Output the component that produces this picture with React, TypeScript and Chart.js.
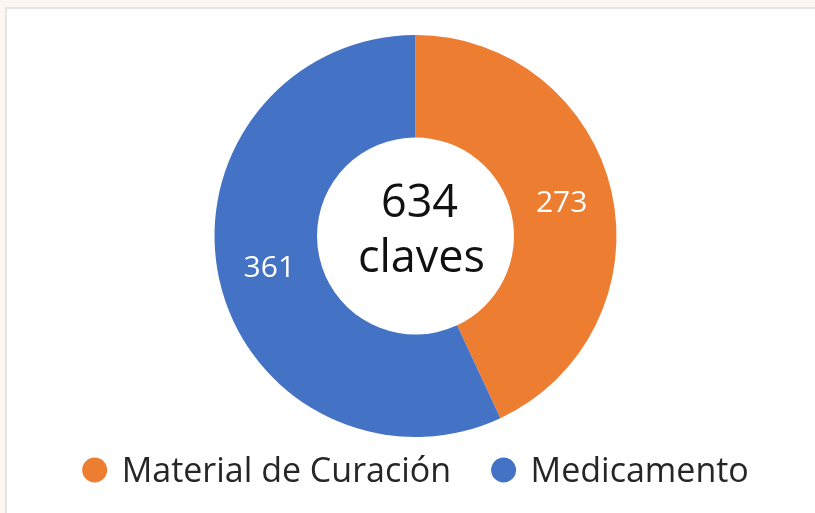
import React, { useEffect, useRef } from "react";
import { Chart, registerables } from "chart.js";

Chart.register(...registerables);

const categories = ["Material de Curación", "Medicamento"];
const values = [273, 361];
const colors = ["#ED7D31", "#4472C4"];
const centerLines = ["634", "claves"];

const FONT = "'Open Sans', 'Noto Sans', sans-serif";

export default function App() {
  const ref = useRef<HTMLCanvasElement>(null);

  useEffect(() => {
    document.body.style.margin = "0";
    const canvas = ref.current!;
    const labelPlugin = {
      id: "labelsAndCenter",
      afterDatasetsDraw(chart: any) {
        const ctx = chart.ctx;
        const meta = chart.getDatasetMeta(0);
        ctx.save();
        ctx.fillStyle = "#ffffff";
        ctx.font = `30px ${FONT}`;
        ctx.textAlign = "center";
        ctx.textBaseline = "middle";
        meta.data.forEach((arc: any, i: number) => {
          const p = arc.tooltipPosition();
          ctx.fillText(String(values[i]), p.x, p.y);
        });
        const a = meta.data[0];
        const cx = a.x;
        const cy = a.y;
        ctx.fillStyle = "#111111";
        ctx.font = `45px ${FONT}`;
        ctx.textBaseline = "alphabetic";
        ctx.fillText(centerLines[0], cx + 4, cy - 19);
        ctx.fillText(centerLines[1], cx + 6, cy + 36);

        // legend
        ctx.font = `34px ${FONT}`;
        ctx.textAlign = "left";
        ctx.textBaseline = "alphabetic";
        const r = 12.5;
        const gapText = 14.5;
        const gapItem = 40;
        const widths = categories.map((c) => 2 * r + gapText + ctx.measureText(c).width);
        const total = widths.reduce((s, w) => s + w, 0) + gapItem * (categories.length - 1);
        let x = cx - total / 2;
        const ly = 470;
        categories.forEach((c, i) => {
          ctx.fillStyle = colors[i];
          ctx.beginPath();
          ctx.arc(x + r, ly, r, 0, Math.PI * 2);
          ctx.fill();
          ctx.fillStyle = "#262626";
          ctx.fillText(c, x + 2 * r + gapText, ly + 12);
          x += widths[i] + gapItem;
        });
        ctx.restore();
      },
    };
    const chart = new Chart(canvas, {
      type: "doughnut",
      data: {
        labels: categories,
        datasets: [
          {
            data: values,
            backgroundColor: colors,
            borderWidth: 0,
          },
        ],
      },
      options: {
        responsive: false,
        animation: false,
        cutout: "49%",
        layout: { padding: { top: 35, bottom: 76, left: 16, right: 0 } },
        plugins: {
          legend: { display: false },
          tooltip: { enabled: false },
        },
      },
      plugins: [labelPlugin],
    });
    return () => chart.destroy();
  }, []);

  return (
    <div style={{ position: "relative", width: 815, height: 513, background: "#fbf6f2", overflow: "hidden" }}>
      <div
        style={{
          position: "absolute",
          left: 5,
          top: 7,
          width: 830,
          height: 530,
          background: "#ffffff",
          border: "2px solid #e4e4e4",
        }}
      />
      <canvas ref={ref} width={815} height={513} style={{ position: "absolute", left: 0, top: 0 }} />
    </div>
  );
}
